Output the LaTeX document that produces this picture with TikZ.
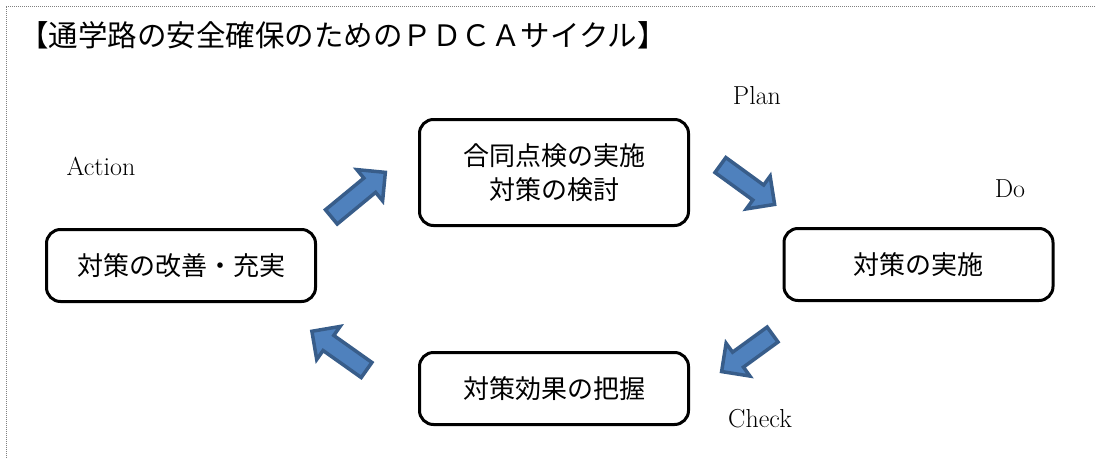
\documentclass[tikz,border=0pt]{standalone}
\usepackage{fontspec}
\newfontfamily\jpfont{Noto Sans CJK JP}
\usepackage{tikz}
\usetikzlibrary{shapes.arrows}
\definecolor{arrowfill}{HTML}{4F81BD}
\definecolor{arrowline}{HTML}{385D8A}
\tikzset{
  box/.style = {draw, line width = 3pt, rounded corners = 14pt, minimum width = 269pt, minimum height = 72pt, align = center, font = \jpfont\fontsize{26}{34}\selectfont},
  blockarrow/.style = {single arrow, draw = arrowline, fill = arrowfill, line width = 3.5pt, inner xsep = 0pt, inner ysep = 7.5pt, single arrow head extend = 11pt, anchor = tail},
  phase/.style = {font = \fontsize{26}{30}\selectfont}
}

\begin{document}
\begin{tikzpicture}[x = 1pt, y = -1pt]
\useasboundingbox (0,0) rectangle (1095,458);
\draw[gray, densely dotted, line width = 1pt] (6,458) -- (6,6) -- (1095,6);
\node[anchor = west, inner sep = 0pt, font = \jpfont\fontsize{29.5}{32}\selectfont] (title) at (19,35) {【通学路の安全確保のためのＰＤＣＡサイクル】};
\node[box, minimum height = 106pt] (plan) at (554,172.5) {合同点検の実施\\対策の検討};
\node[box] (do) at (918.5,264.5) {対策の実施};
\node[box] (check) at (554,388.5) {対策効果の把握};
\node[box] (act) at (181,265.5) {対策の改善・充実};
\node[phase] (planlbl) at (757,96) {Plan};
\node[phase] (dolbl) at (1010,189) {Do};
\node[phase] (checklbl) at (760,419) {Check};
\node[phase] (actlbl) at (101,166) {Action};
\node[blockarrow, minimum height = 70pt, rotate = 39.5] (actplan) at (330,218) {};
\node[blockarrow, minimum height = 67pt, rotate = -36] (plando) at (719,164) {};
\node[blockarrow, minimum height = 63pt, rotate = -144] (docheck) at (774,333.5) {};
\node[blockarrow, minimum height = 67pt, rotate = 144.7] (checkact) at (368,371) {};
\end{tikzpicture}
\end{document}
